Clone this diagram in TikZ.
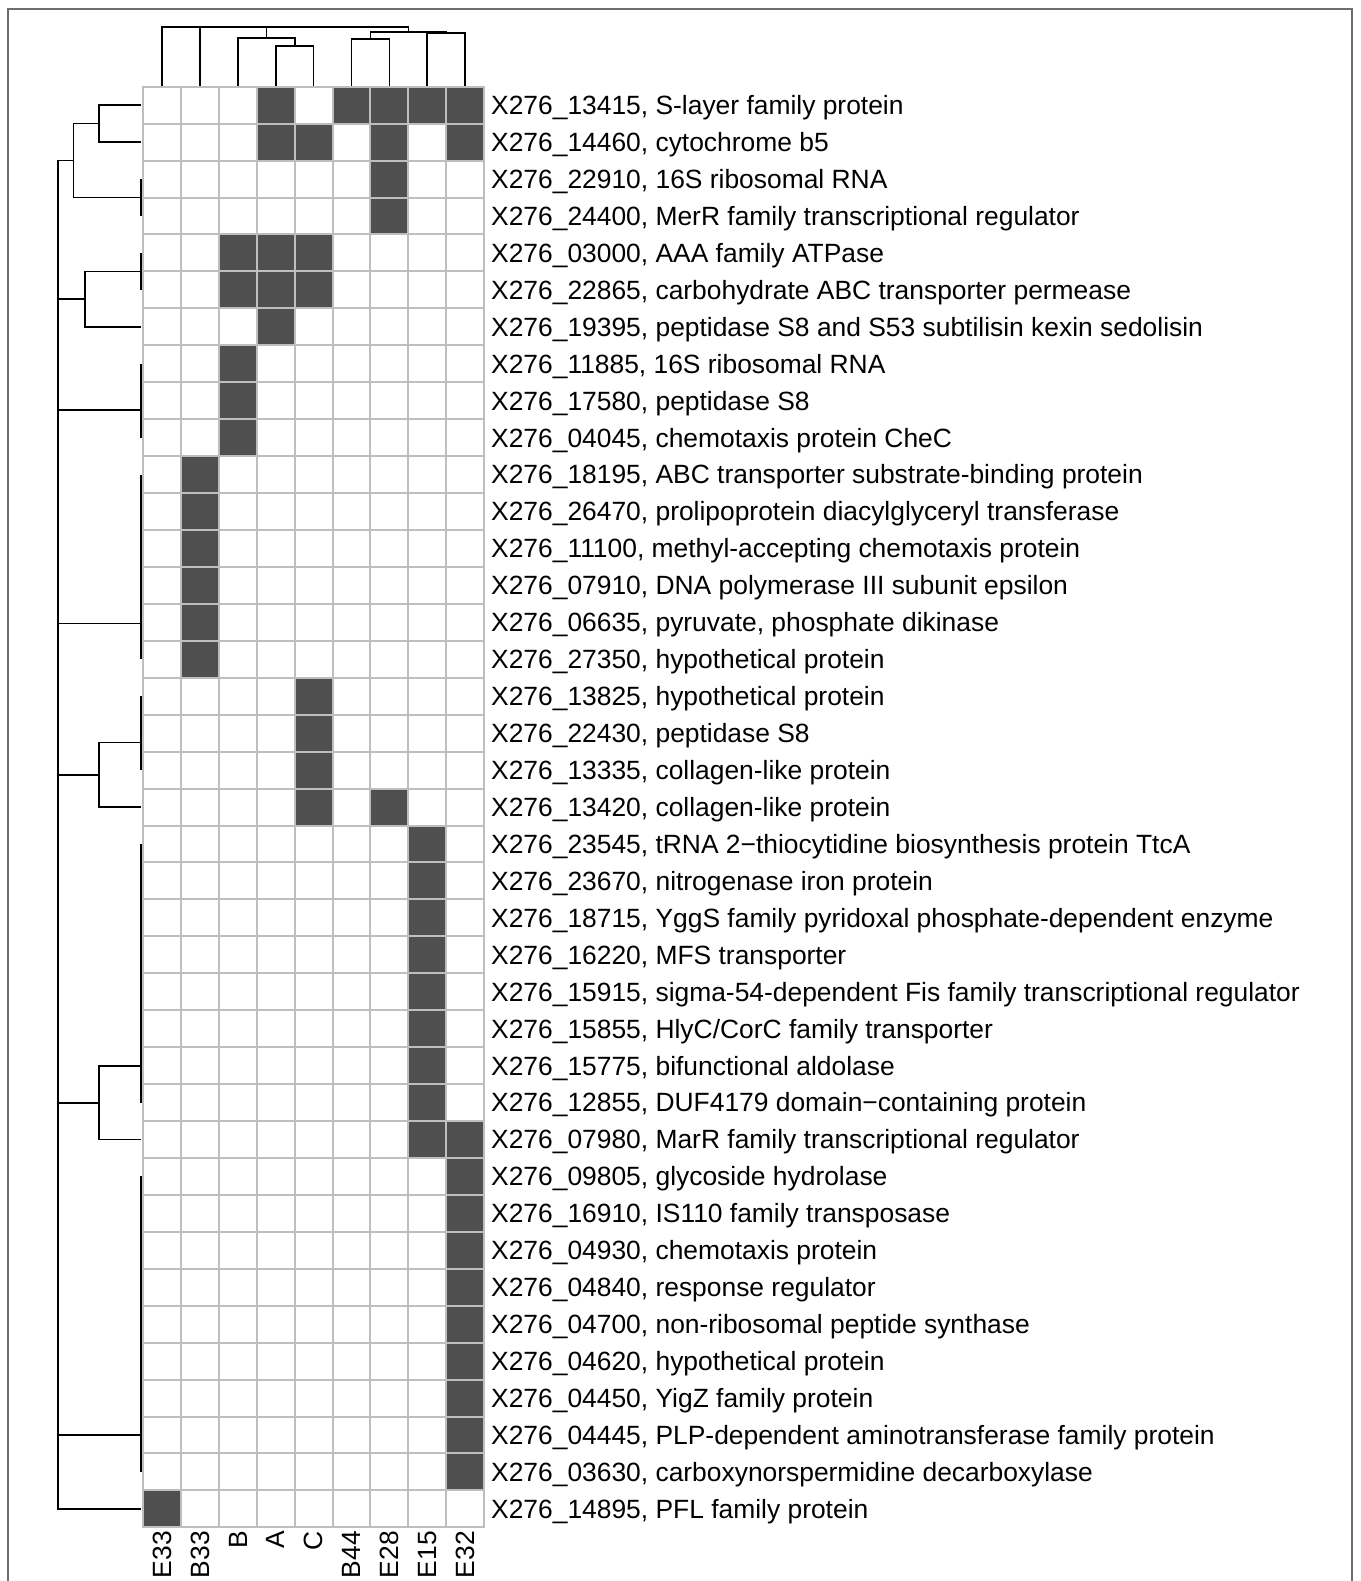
\documentclass[tikz,border=0pt]{standalone}
\usepackage{fontspec}
\setmainfont{Liberation Sans}
\usepackage{xcolor}
\usepackage{tikz}
\definecolor{cellon}{HTML}{4F4F4F}
\definecolor{cellgrid}{HTML}{BEBEBE}
\definecolor{framegray}{HTML}{6E6E6E}
\newcommand{\labfont}{\fontsize{26.4}{30}\selectfont}
\tikzset{
  hit/.style      = {fill=cellon},
  gridln/.style   = {draw=cellgrid, line width=2pt, line cap=rect},
  dendro/.style   = {draw=black, line width=1.6pt},
  framebox/.style = {draw=framegray, line width=1.4pt},
  rowlab/.style   = {anchor=base west, inner sep=0pt, font=\labfont},
  collab/.style   = {anchor=east, rotate=90, inner sep=0pt, font=\labfont},
}

\begin{document}
\begin{tikzpicture}[x=1pt, y=-1pt]

  \useasboundingbox (0,0) rectangle (1360,1581);
  \fill[white] (0,0) rectangle (1360,1581);

  % Frame (open at the bottom)
  \draw[framebox] (8,1581) -- (8,9) -- (1352,9) -- (1352,1581);

  % Presence matrix: row / dark columns
  \begin{scope}[shift={(143.3pt,-86.7pt)}, x=37.86pt, y=-36.94pt]
    \foreach \r/\cols in {1/{4,6,7,8,9}, 2/{4,5,7,9}, 3/7, 4/7, 5/{3,4,5}, 6/{3,4,5},
        7/4, 8/3, 9/3, 10/3, 11/2, 12/2, 13/2, 14/2, 15/2, 16/2, 17/5, 18/5, 19/5,
        20/{5,7}, 21/8, 22/8, 23/8, 24/8, 25/8, 26/8, 27/8, 28/8, 29/{8,9},
        30/9, 31/9, 32/9, 33/9, 34/9, 35/9, 36/9, 37/9, 38/9, 39/1}
      \foreach \c in \cols
        \fill[hit] (\c-1,\r-1) rectangle (\c,\r);
    \foreach \c in {0,...,9}
      \draw[gridln] (\c,0) -- (\c,39);
    \foreach \r in {0,...,39}
      \draw[gridln] (0,\r) -- (9,\r);
  \end{scope}

  % Column labels and top leaves
  \foreach \s [count=\c] in {E33,B33,B,A,C,B44,E28,E15,E32} {
    \coordinate (t-\s) at ({143.3+(\c-0.5)*37.86},85.7);
    \node[collab] (lab-\s) at ({143.3+(\c-0.5)*37.86},1531) {\s};
  }

  % Row labels and left leaves
  \foreach \lab [count=\r] in {
      {X276\_13415, S-layer family protein},
      {X276\_14460, cytochrome b5},
      {X276\_22910, 16S ribosomal RNA},
      {X276\_24400, MerR family transcriptional regulator},
      {X276\_03000, AAA family ATPase},
      {X276\_22865, carbohydrate ABC transporter permease},
      {X276\_19395, peptidase S8 and S53 subtilisin kexin sedolisin},
      {X276\_11885, 16S ribosomal RNA},
      {X276\_17580, peptidase S8},
      {X276\_04045, chemotaxis protein CheC},
      {X276\_18195, ABC transporter substrate-binding protein},
      {X276\_26470, prolipoprotein diacylglyceryl transferase},
      {X276\_11100, methyl-accepting chemotaxis protein},
      {X276\_07910, DNA polymerase III subunit epsilon},
      {X276\_06635, pyruvate, phosphate dikinase},
      {X276\_27350, hypothetical protein},
      {X276\_13825, hypothetical protein},
      {X276\_22430, peptidase S8},
      {X276\_13335, collagen-like protein},
      {X276\_13420, collagen-like protein},
      {X276\_23545, tRNA 2−thiocytidine biosynthesis protein TtcA},
      {X276\_23670, nitrogenase iron protein},
      {X276\_18715, YggS family pyridoxal phosphate-dependent enzyme},
      {X276\_16220, MFS transporter},
      {X276\_15915, sigma-54-dependent Fis family transcriptional regulator},
      {X276\_15855, HlyC/CorC family transporter},
      {X276\_15775, bifunctional aldolase},
      {X276\_12855, DUF4179 domain−containing protein},
      {X276\_07980, MarR family transcriptional regulator},
      {X276\_09805, glycoside hydrolase},
      {X276\_16910, IS110 family transposase},
      {X276\_04930, chemotaxis protein},
      {X276\_04840, response regulator},
      {X276\_04700, non-ribosomal peptide synthase},
      {X276\_04620, hypothetical protein},
      {X276\_04450, YigZ family protein},
      {X276\_04445, PLP-dependent aminotransferase family protein},
      {X276\_03630, carboxynorspermidine decarboxylase},
      {X276\_14895, PFL family protein}} {
    \coordinate (l-\r) at (141,{86.7+(\r-0.5)*36.94});
    \node[rowlab] (row-\r) at (491,{86.7+(\r-0.5)*36.94+9.4}) {\lab};
  }

  % Column dendrogram
  \coordinate (AC)    at (294.74,46);
  \coordinate (BAC)   at (266.35,38.3);
  \coordinate (BE)    at (370.46,39);
  \coordinate (EE)    at (446.18,33.3);
  \coordinate (RT)    at (408.32,32);
  \coordinate (troot) at (408.32,27.3);
  \draw[dendro] (t-A) |- (AC) -| (t-C);
  \draw[dendro] (t-B) |- (BAC) -| (AC);
  \draw[dendro] (t-B44) |- (BE) -| (t-E28);
  \draw[dendro] (t-E15) |- (EE) -| (t-E32);
  \draw[dendro] (BE) |- (RT) -| (EE);
  \draw[dendro] (t-E33) |- (troot) -- (RT);
  \draw[dendro] (t-B33) -- (t-B33 |- troot);
  \draw[dendro] (BAC) -- (BAC |- troot);

  % Row dendrogram
  \coordinate (m12)      at (98.7,123.64);
  \coordinate (m34)      at (141,197.52);
  \coordinate (m1to4)    at (73.3,160.58);
  \coordinate (m56)      at (141,271.40);
  \coordinate (m5to7)    at (85,299.11);
  \coordinate (m8to10)   at (141,409.93);
  \coordinate (m11to16)  at (141,623.49);
  \coordinate (m17to19)  at (141,742.39);
  \coordinate (m17to20)  at (98.7,774.71);
  \coordinate (m21to28)  at (141,1065.90);
  \coordinate (m21to29)  at (98.7,1102.70);
  \coordinate (m30to38)  at (141,1435.16);
  \coordinate (lroot)    at (57.7,160.58);
  \draw[dendro] (l-1) -| (m12) |- (l-2);
  \draw[dendro] (l-3) -- (l-4);
  \draw[dendro] (m12) -| (m1to4) |- (m34);
  \draw[dendro] (l-5) -- (l-6);
  \draw[dendro] (m56) -| (m5to7) |- (l-7);
  \draw[dendro] (l-8) -- (l-10);
  \draw[dendro] (l-11) -- (l-16);
  \draw[dendro] (l-17) -- (l-19);
  \draw[dendro] (m17to19) -| (m17to20) |- (l-20);
  \draw[dendro] (l-21) -- (l-28);
  \draw[dendro] (m21to28) -| (m21to29) |- (l-29);
  \draw[dendro] (l-30) -- (l-38);
  \draw[dendro] (m1to4) -- (lroot) |- (l-39);
  \foreach \m in {m5to7,m8to10,m11to16,m17to20,m21to29,m30to38}
    \draw[dendro] (\m) -- (\m -| lroot);

\end{tikzpicture}
\end{document}
